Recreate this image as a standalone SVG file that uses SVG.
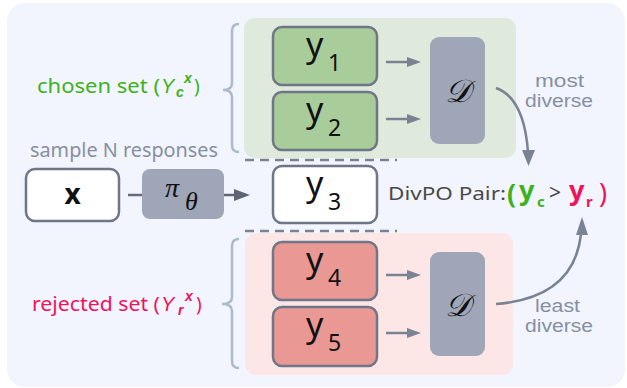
<svg xmlns="http://www.w3.org/2000/svg" width="627" height="388" viewBox="0 0 627 388">
<style>
.box{stroke:#6e7687;stroke-width:2.5}
.g{fill:#a9cd9a}
.r{fill:#e99894}
.w{fill:#ffffff}
.dbox{fill:#9ea6b7}
.ytxt{font-family:"Noto Sans",sans-serif;fill:#111;font-size:34px}
.ysub{font-family:"Noto Sans",sans-serif;fill:#111;font-size:23px}
.lbl{font-family:"Noto Sans",sans-serif;font-size:19px;fill:#878fa2}
.elbl{font-family:"Liberation Sans",sans-serif;font-size:17.5px;fill:#878fa2}
.math{font-family:"Liberation Serif",serif;font-style:italic;fill:#111}
.arr{stroke:#7a8293;stroke-width:2.5;fill:none}
.ah{fill:#7a8293}
.brace{stroke:#b0b9c9;stroke-width:2.5;fill:none}
.dash{stroke:#7a8293;stroke-width:2.5;stroke-dasharray:9 6;fill:none}
.set{font-family:"Noto Sans",sans-serif;font-size:19px}
.it{font-family:"Liberation Sans",sans-serif;font-style:italic}
.green{fill:#3db21b}
.pink{fill:#f0145a}
</style>
<rect x="7" y="3" width="618" height="384" rx="18" fill="#f2f5fe"/>
<g id="chosen-region">
<rect x="244" y="18" width="272" height="140" rx="11" fill="#dfe9dc"/>
</g>
<g id="rejected-region">
<rect x="245" y="233" width="268" height="142" rx="11" fill="#fce6e6"/>
</g>
<g id="braces">
<path class="brace" d="M239,24 Q232,24 232,31 L232,83 Q232,90 223,90 Q232,90 232,97 L232,145 Q232,152 239,152"/>
<path class="brace" d="M239,239 Q232,239 232,246 L232,297 Q232,304 222,304 Q232,304 232,311 L232,361 Q232,368 239,368"/>
</g>
<g id="chosen-label" class="green">
<text class="set" x="37" y="93" textLength="123" lengthAdjust="spacingAndGlyphs">chosen set (</text>
<text class="it" x="161" y="93" font-size="20">Y</text>
<text class="it" x="176" y="97" font-size="14" font-weight="bold">c</text>
<text class="it" x="184" y="83" font-size="14" font-weight="bold">x</text>
<text class="set" x="194" y="93">)</text>
</g>
<g id="rejected-label" class="pink">
<text class="set" x="32" y="311" textLength="128" lengthAdjust="spacingAndGlyphs">rejected set (</text>
<text class="it" x="161" y="311" font-size="20">Y</text>
<text class="it" x="178" y="315" font-size="14" font-weight="bold">r</text>
<text class="it" x="185" y="301" font-size="14" font-weight="bold">x</text>
<text class="set" x="196" y="311">)</text>
</g>
<g id="sample-label">
<text class="lbl" x="30" y="157" textLength="188" lengthAdjust="spacingAndGlyphs">sample N responses</text>
</g>
<g id="node-x">
<rect class="box w" x="26" y="169" width="93" height="52" rx="9"/>
<text x="72.5" y="204" text-anchor="middle" font-family="'Noto Sans',sans-serif" font-weight="bold" font-size="28" fill="#111">x</text>
</g>
<g id="node-pi">
<rect class="dbox" x="142" y="169" width="82" height="50" rx="8"/>
<text class="math" x="165" y="197" font-size="28">π</text>
<text class="math" x="185" y="210" font-size="26">θ</text>
</g>
<g id="node-y1">
<rect class="box g" x="273" y="27" width="104" height="58" rx="9"/>
<text class="ytxt" x="306" y="57">y</text><text class="ysub" x="328" y="71">1</text>
</g>
<g id="node-y2">
<rect class="box g" x="273" y="92" width="104" height="58" rx="9"/>
<text class="ytxt" x="306" y="122">y</text><text class="ysub" x="328" y="136">2</text>
</g>
<g id="node-y3">
<rect class="box w" x="273" y="166" width="104" height="57" rx="9"/>
<text class="ytxt" x="306" y="196">y</text><text class="ysub" x="328" y="210">3</text>
</g>
<g id="node-y4">
<rect class="box r" x="273" y="242" width="104" height="58" rx="9"/>
<text class="ytxt" x="306" y="272">y</text><text class="ysub" x="328" y="286">4</text>
</g>
<g id="node-y5">
<rect class="box r" x="273" y="307" width="104" height="59" rx="9"/>
<text class="ytxt" x="306" y="337">y</text><text class="ysub" x="328" y="351">5</text>
</g>
<g id="node-D1">
<rect class="dbox" x="430" y="37" width="55" height="107" rx="9"/>
<text class="math" x="457.5" y="102" font-size="32" text-anchor="middle">𝒟</text>
</g>
<g id="node-D2">
<rect class="dbox" x="430" y="252" width="55" height="104" rx="9"/>
<text class="math" x="457.5" y="316" font-size="32" text-anchor="middle">𝒟</text>
</g>
<g id="connectors">
<line x1="128" y1="195" x2="142" y2="195" stroke="#646b7a" stroke-width="2.5"/>
<line x1="224" y1="195" x2="238" y2="195" stroke="#5d6474" stroke-width="2.5"/>
<path d="M234,189 L250,195 L234,201 z" fill="#5d6474"/>
<line class="arr" x1="386" y1="62" x2="410" y2="62"/>
<path class="ah" d="M407,57 L421,62 L407,67 z"/>
<line class="arr" x1="386" y1="119" x2="410" y2="119"/>
<path class="ah" d="M407,114 L421,119 L407,124 z"/>
<line class="arr" x1="386" y1="275" x2="410" y2="275"/>
<path class="ah" d="M407,270 L421,275 L407,280 z"/>
<line class="arr" x1="386" y1="333" x2="410" y2="333"/>
<path class="ah" d="M407,328 L421,333 L407,338 z"/>
<path class="arr" d="M496,88 Q524,98 528,152"/>
<path class="ah" d="M522,150 L528.5,166 L535,150 z"/>
<path class="arr" d="M496,304 Q574,298 581,234"/>
<path class="ah" d="M576,235 L582,217 L588,235 z"/>
<line class="dash" x1="245" y1="160" x2="397" y2="160"/>
<line class="dash" x1="245" y1="231" x2="397" y2="231"/>
</g>
<g id="edge-labels">
<text class="elbl" x="535" y="87" textLength="49" lengthAdjust="spacingAndGlyphs">most</text>
<text class="elbl" x="525" y="107" textLength="68" lengthAdjust="spacingAndGlyphs">diverse</text>
<text class="elbl" x="535" y="312" textLength="45" lengthAdjust="spacingAndGlyphs">least</text>
<text class="elbl" x="525" y="332" textLength="68" lengthAdjust="spacingAndGlyphs">diverse</text>
</g>
<g id="pair">
<text x="388" y="200" font-family="'Noto Sans',sans-serif" font-size="18" fill="#4a4a4a" textLength="118" lengthAdjust="spacingAndGlyphs">DivPO Pair:</text>
<text class="green" x="507" y="203" font-family="'Noto Sans',sans-serif" font-size="27" font-weight="bold">(</text>
<text class="green" x="519" y="200" font-family="'Noto Sans',sans-serif" font-size="27" font-weight="bold">y</text>
<text class="green" x="537" y="207" font-family="'Noto Sans',sans-serif" font-size="15" font-weight="bold">c</text>
<text x="549" y="200" font-family="'Noto Sans',sans-serif" font-size="21" fill="#4a4a4a">&gt;</text>
<text class="pink" x="569" y="200" font-family="'Noto Sans',sans-serif" font-size="27" font-weight="bold">y</text>
<text class="pink" x="586" y="207" font-family="'Noto Sans',sans-serif" font-size="15" font-weight="bold">r</text>
<text class="pink" x="599" y="203" font-family="'Noto Sans',sans-serif" font-size="27">)</text>
</g>
</svg>
